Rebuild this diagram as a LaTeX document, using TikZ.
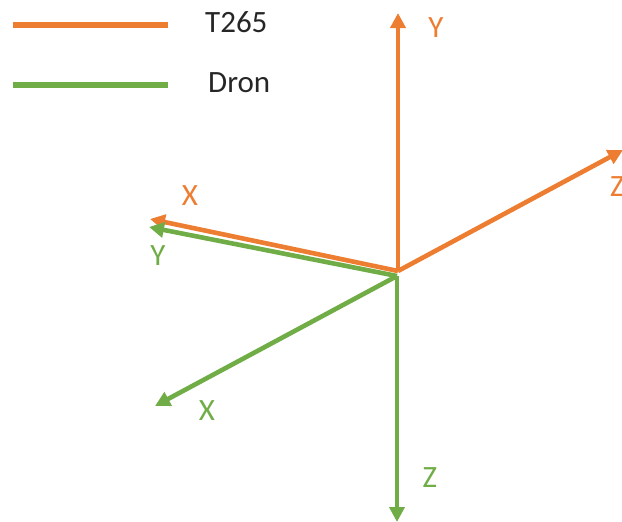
\documentclass[tikz,border=0pt]{standalone}
\usepackage{fontspec}
\setmainfont{Carlito}
\usetikzlibrary{arrows.meta,positioning}

\definecolor{tcam}{HTML}{ED7D31}
\definecolor{dron}{HTML}{70AD47}

\begin{document}
\begin{tikzpicture}[
  x=1pt, y=-1pt,
  axis/.style={line width=4.6pt, -{Triangle[length=15pt, width=15pt]}},
  leg/.style={line width=5.5pt},
  lbl/.style={font=\fontsize{31}{31}\selectfont, inner sep=0pt},
  legtxt/.style={font=\fontsize{31}{31}\selectfont, inner sep=0pt, anchor=west, text=black!85}
]
\useasboundingbox (0,0) rectangle (622,522);

% legend
\coordinate (la) at (13,25);
\coordinate (lb) at (168,25);
\coordinate (lc) at (13,85);
\coordinate (ld) at (168,85);
\draw[leg, tcam] (la) -- (lb);
\draw[leg, dron] (lc) -- (ld);
\node[legtxt] (tname) at (205,22) {T265};
\node[legtxt] (dname) at (208,83) {Dron};

% T265 frame
\coordinate (ot) at (398,271);
\coordinate (ty) at (398,13);
\coordinate (tz) at (623,150);
\coordinate (tx) at (150,219);
\draw[axis, tcam] (ot) -- (ty);
\draw[axis, tcam] (ot) -- (tz);
\draw[axis, tcam] (ot) -- (tx);
\node[lbl, text=tcam] (tyl) at (436,28) {Y};
\node[lbl, text=tcam, anchor=west] (tzl) at (610,187) {Z};
\node[lbl, text=tcam] (txl) at (190,196) {X};

% drone frame
\coordinate (od) at (397,276);
\coordinate (dy) at (149,227);
\coordinate (dx) at (155,406);
\coordinate (dz) at (397,522);
\draw[axis, dron] (od) -- (dy);
\draw[axis, dron] (od) -- (dx);
\draw[axis, dron] (od) -- (dz);
\node[lbl, text=dron] (dyl) at (158,256) {Y};
\node[lbl, text=dron] (dxl) at (207,411) {X};
\node[lbl, text=dron] (dzl) at (430,478) {Z};
\end{tikzpicture}
\end{document}
